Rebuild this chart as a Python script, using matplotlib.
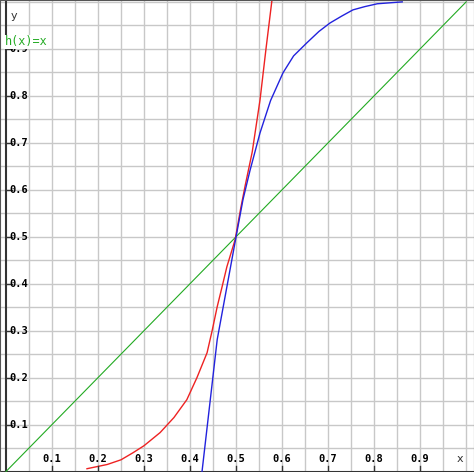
import matplotlib
matplotlib.use("Agg")
import matplotlib.pyplot as plt
import numpy as np

red_x = [0.176, 0.22, 0.25, 0.276, 0.30, 0.335, 0.365, 0.393, 0.415, 0.437, 0.448, 0.459, 0.470,
         0.480, 0.498, 0.51, 0.52, 0.535, 0.552, 0.565, 0.578]
red_y = [0.006, 0.015, 0.025, 0.040, 0.055, 0.083, 0.115, 0.153, 0.20, 0.253, 0.30, 0.351, 0.395,
         0.436, 0.494, 0.56, 0.61, 0.68, 0.791, 0.90, 1.004]
blue_x = [0.426, 0.459, 0.50, 0.515, 0.53, 0.552, 0.575, 0.602, 0.625, 0.654, 0.68, 0.704,
          0.73, 0.754, 0.78, 0.807, 0.861]
blue_y = [0.0, 0.281, 0.50, 0.579, 0.64, 0.721, 0.79, 0.849, 0.885, 0.913, 0.937, 0.955,
          0.970, 0.983, 0.990, 0.996, 1.0]
green_x = [0.0, 1.0]
green_y = [0.0, 1.0]
ticks = [0.1, 0.2, 0.3, 0.4, 0.5, 0.6, 0.7, 0.8, 0.9]

fig = plt.figure(figsize=(4.74, 4.72), dpi=100)
ax = fig.add_axes([0, 0, 1, 1])
ax.set_xlim(-0.013, 1.017)
ax.set_ylim(-0.001, 1.004)
for s in ax.spines.values():
    s.set_color("#555555")
ax.set_xticks([]); ax.set_yticks([])
for g in np.arange(0.05, 1.01, 0.05):
    ax.axvline(g, color="#c8c8c8", lw=1, zorder=0)
    ax.axhline(g, color="#c8c8c8", lw=1, zorder=0)
ax.axhline(0, color="#333333", lw=1.5)
ax.axvline(0, color="#333333", lw=1.5)
ax.plot(green_x, green_y, color="#22aa22", lw=0.8)
ax.plot(red_x, red_y, color="#ee2222", lw=1)
ax.plot(blue_x, blue_y, color="#2222dd", lw=1)
for t in ticks:
    ax.plot([t, t], [0, 0.012], color="#333333", lw=1)
    ax.plot([0, 0.012], [t, t], color="#333333", lw=1)
    ax.text(t, 0.015, f"{t:.1f}", ha="center", va="bottom", fontsize=7.5,
            family="DejaVu Sans Mono", weight="bold")
    ax.text(0.008, t, f"{t:.1f}", ha="left", va="center", fontsize=7.5,
            family="DejaVu Sans Mono", weight="bold")
ax.text(0.017, 0.97, "y", ha="center", va="center", fontsize=8, color="#333333")
ax.text(0.987, 0.026, "x", ha="center", va="center", fontsize=8, color="#333333")
ax.text(-0.003, 0.915, "h(x)=x", ha="left", va="center", fontsize=8.5, color="#22aa22",
        family="DejaVu Sans Mono", zorder=5,
        bbox=dict(facecolor="white", edgecolor="none", pad=0.5))
fig.savefig("out.png", dpi=100)
